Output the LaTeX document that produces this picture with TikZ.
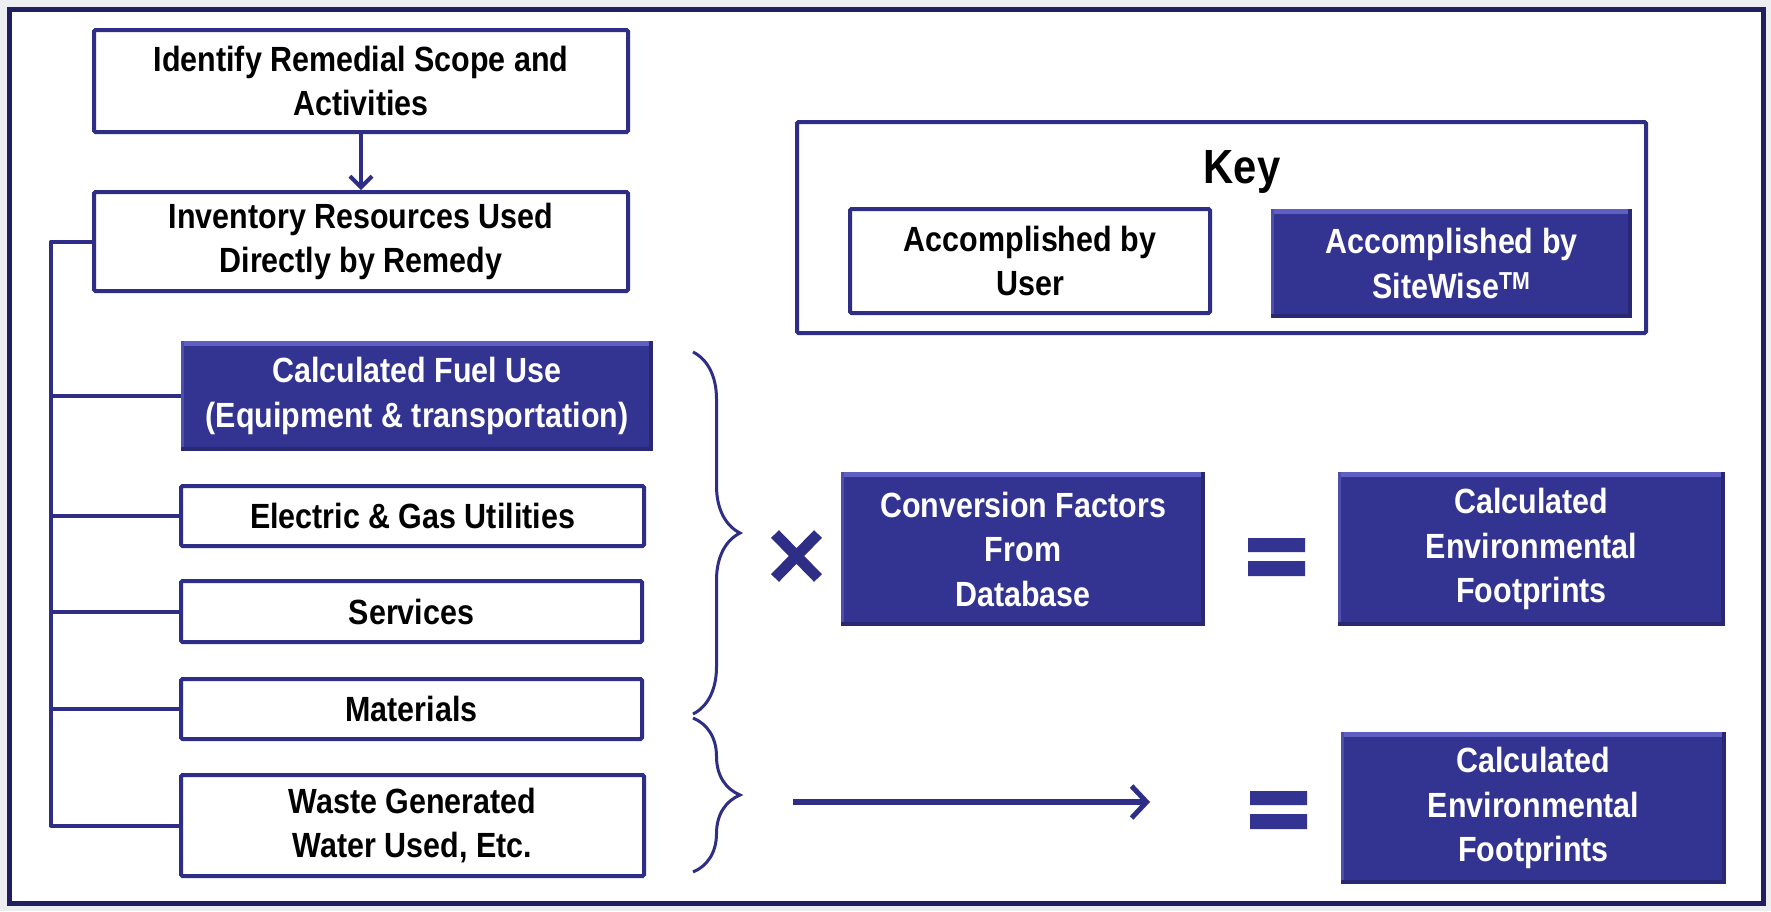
\documentclass[tikz,border=0pt]{standalone}
\usepackage{fontspec}
\setmainfont{Liberation Sans}[FakeStretch=0.87]
\usetikzlibrary{arrows.meta,decorations.pathreplacing,calc}
\definecolor{navy}{RGB}{46,46,134}
\definecolor{framec}{RGB}{32,32,96}
\definecolor{fillb}{RGB}{51,51,145}
\definecolor{bevelc}{RGB}{95,95,195}
\definecolor{darkb}{RGB}{40,40,115}
\definecolor{bgc}{RGB}{236,238,241}
\tikzset{
  txt/.style={font=\fontsize{35}{44.5}\selectfont\bfseries, align=center, inner sep=0pt},
  userbox/.style={txt, draw=navy, line width=4pt, fill=white, rounded corners=1.5pt},
  sitebox/.style={txt, fill=fillb, text=white,
    path picture={
      \fill[bevelc] (path picture bounding box.north west) rectangle ([yshift=-5pt]path picture bounding box.north east);
      \fill[bevelc!60!fillb] (path picture bounding box.north west) rectangle ([xshift=3pt]path picture bounding box.south west);
      \fill[darkb] (path picture bounding box.south west) rectangle ([yshift=4pt]path picture bounding box.south east);
      \fill[darkb] (path picture bounding box.south east) rectangle ([xshift=-4pt]path picture bounding box.north east);
    }},
  conn/.style={draw=navy, line width=4pt},
  bracedeco/.style={draw=navy, line width=3pt, decorate, decoration={brace, amplitude=47pt}},
}
\begin{document}
\begin{tikzpicture}[x=1pt,y=-1pt]
\fill[bgc] (0,0) rectangle (1771,911);
\useasboundingbox (0,0) rectangle (1771,911);
\draw[framec, line width=5pt, fill=white] (9.5,9.5) rectangle (1763.5,903.5);

% left column
\node[userbox, minimum width=534pt, minimum height=102pt] (identify) at (361,81) {Identify Remedial Scope and\\Activities};
\node[userbox, minimum width=534pt, minimum height=99pt] (inventory) at (361,241.5) {Inventory Resources Used\\Directly by Remedy};
\node[sitebox, minimum width=472pt, minimum height=110pt] (fuel) at (417,396) {Calculated Fuel Use\\(Equipment \& transportation)};
\node[userbox, minimum width=463pt, minimum height=60pt] (electric) at (412.5,516) {Electric \& Gas Utilities};
\node[userbox, minimum width=461pt, minimum height=61pt] (services) at (411.5,611.5) {Services};
\node[userbox, minimum width=461pt, minimum height=60pt] (materials) at (411.5,709) {Materials};
\node[userbox, minimum width=463pt, minimum height=101pt] (waste) at (412.5,825.5) {Waste Generated\\Water Used, Etc.};

\draw[conn, -{Straight Barb[length=11pt,width=22pt,line width=4pt]}] (identify.south) -- (inventory.north);

\coordinate (bus) at (51,0);
\draw[conn, line join=round] (inventory.west) -- (bus |- inventory.west) -- (bus |- waste.west) -- (waste.west);
\foreach \b in {fuel,electric,services,materials}
  \draw[conn] (bus |- \b.west) -- (\b.west);

% key
\node[draw=navy, line width=4pt, fill=white, rounded corners=1.5pt, minimum width=849pt, minimum height=211pt, inner sep=0pt] (key) at (1221.5,227.5) {};
\node[font=\fontsize{48}{52}\selectfont\bfseries, inner sep=0pt] (keytitle) at (1242,172) {Key};
\node[userbox, minimum width=360pt, minimum height=104pt] (keyuser) at (1030,261) {Accomplished by\\User};
\node[sitebox, minimum width=361pt, minimum height=109pt] (keysite) at (1451.5,263.5) {Accomplished by\\SiteWise\textsuperscript{TM}};

% braces
\coordinate (b1t) at (693,352);
\coordinate (b1b) at (693,714);
\coordinate (b2t) at (693,718);
\coordinate (b2b) at (693,872);
\draw[bracedeco] (b1t) -- (b1b);
\draw[bracedeco] (b2t) -- (b2b);

% times sign
\coordinate (xa) at (775,534);
\coordinate (xb) at (818,578);
\draw[navy, line width=11pt] (xa) -- (xb) (xa |- xb) -- (xb |- xa);

% right boxes
\node[sitebox, minimum width=364pt, minimum height=154pt] (conv) at (1023,549) {Conversion Factors\\From\\Database};
\node[sitebox, minimum width=387pt, minimum height=154pt] (env1) at (1531.5,549) {Calculated\\Environmental\\Footprints};
\node[sitebox, minimum width=385pt, minimum height=152pt] (env2) at (1533.5,808) {Calculated\\Environmental\\Footprints};

% equals signs
\fill[fillb] (1248,538) rectangle (1305,552) (1248,561) rectangle (1305,576);
\fill[fillb] (1250,791) rectangle (1307,805) (1250,814) rectangle (1307,829);

% arrow
\coordinate (as) at (793,802);
\coordinate (ae) at (1150,802);
\draw[navy, line width=6pt, -{Straight Barb[length=15pt,width=32pt,line width=5pt]}] (as) -- (ae);
\end{tikzpicture}
\end{document}
